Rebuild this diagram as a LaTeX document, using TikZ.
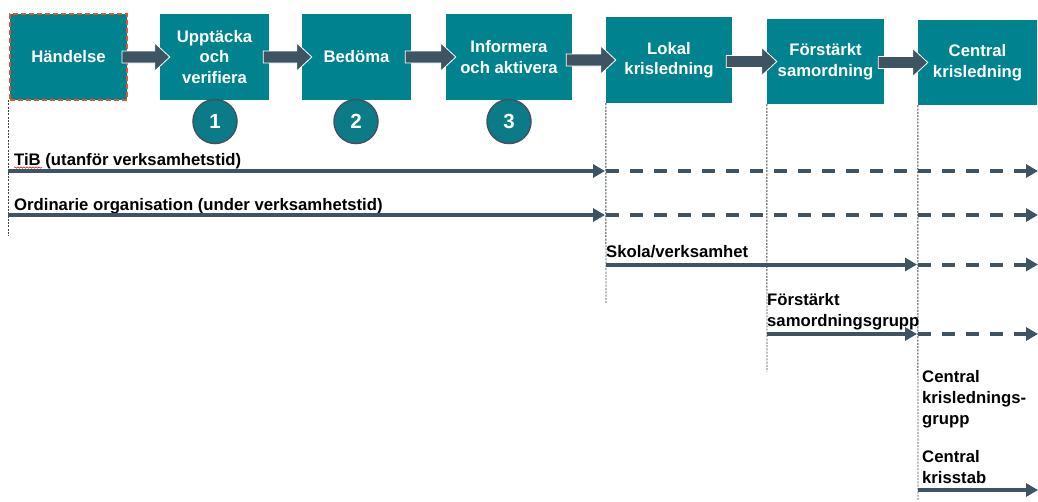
\documentclass[tikz,border=0pt]{standalone}
\usepackage{fontspec}
\setmainfont{Liberation Sans}
\usetikzlibrary{calc,arrows.meta,decorations.pathmorphing}
\definecolor{teal1}{HTML}{00838F}
\definecolor{slate}{HTML}{3E5462}
\definecolor{circ}{HTML}{0B7C87}
\definecolor{orng}{HTML}{E0552D}
\definecolor{dotc}{HTML}{3A4852}
\newcommand\barrow[2]{%
  \filldraw[barrow] ($(#1.east|-#2.west)+(-6,-6)$) -- ($(#2.west)+(-5,-6)$) -- ($(#2.west)+(-5,-14)$)
    -- ($(#2.west)+(10,0)$) -- ($(#2.west)+(-5,14)$) -- ($(#2.west)+(-5,6)$)
    -- ($(#1.east|-#2.west)+(-6,6)$) -- cycle;}
\begin{document}
\begin{tikzpicture}[x=1pt,y=-1pt,
  stage/.style={rectangle, fill=teal1, text=white, font=\bfseries\fontsize{16.7}{20.5}\selectfont, align=center, inner sep=0pt},
  numc/.style={circle, fill=circ, draw=slate, line width=1.5pt, minimum size=44pt, inner sep=0pt, text=white, font=\bfseries\fontsize{20.5}{24}\selectfont},
  barrow/.style={fill=slate, draw=white, line width=0.8pt},
  guide/.style={draw=dotc, line width=0.9pt, dash pattern=on 2pt off 1.3pt},
  flow/.style={draw=slate, line width=4pt, -{Triangle[length=12pt,width=13pt]}},
  flowd/.style={flow, dash pattern=on 13pt off 11pt},
  lbl/.style={anchor=north west, inner sep=0pt, font=\bfseries\fontsize{16.7}{21}\selectfont, align=left}
]
\useasboundingbox[fill=white] (0,0) rectangle (1038,501);

% stage boxes
\node[stage, minimum width=117pt, minimum height=86pt, draw=orng, line width=2pt, dash pattern=on 5pt off 3pt] (hand) at (68.5,57) {Händelse};
\node[stage, minimum width=109pt, minimum height=86pt] (upp) at (214.5,57) {Upptäcka\\och\\verifiera};
\node[stage, minimum width=109pt, minimum height=86pt] (bed) at (356.5,57) {Bedöma};
\node[stage, minimum width=126pt, minimum height=86pt] (inf) at (509,57) {Informera\\och aktivera};
\node[stage, minimum width=126pt, minimum height=86pt] (lok) at (669,60) {Lokal\\krisledning};
\node[stage, minimum width=117pt, minimum height=85pt] (fors) at (825.5,61.5) {Förstärkt\\samordning};
\node[stage, minimum width=119pt, minimum height=85pt] (cent) at (977.5,62.5) {Central\\krisledning};

% block arrows
\barrow{hand}{upp}
\barrow{upp}{bed}
\barrow{bed}{inf}
\barrow{inf}{lok}
\barrow{lok}{fors}
\barrow{fors}{cent}

% numbered circles
\node[numc] (c1) at (215,121.5) {1};
\node[numc] (c2) at (356,121.5) {2};
\node[numc] (c3) at (509,121.5) {3};

% guide lines
\coordinate (g0t) at (8,100);
\coordinate (g0b) at (8,236);
\coordinate (g1b) at (606,303);
\coordinate (g2b) at (767,372);
\coordinate (g3b) at (918,501);
\draw[guide] (g0t) -- (g0b);
\draw[guide] (lok.south west) -- (g1b);
\draw[guide] (fors.south west) -- (g2b);
\draw[guide] (cent.south west) -- (g3b);

% labels
\node[lbl] (tib) at (14,153) {TiB (utanför verksamhetstid)};
\node[lbl] (ord) at (14,198) {Ordinarie organisation (under verksamhetstid)};
\node[lbl] (sko) at (606,245) {Skola/verksamhet};
\node[lbl] (fsg) at (767,293) {Förstärkt\\samordningsgrupp};
\node[lbl] (ckg) at (922,370.5) {Central\\krislednings-\\grupp};
\node[lbl] (cks) at (922,450) {Central\\krisstab};

% spell-check squiggle under TiB
\draw[red!80!black, line width=0.5pt, decorate, decoration={snake, amplitude=0.7pt, segment length=3pt}] (14,167.5) -- (42,167.5);

% flow arrows
\coordinate (tibS) at (8,171);
\coordinate (tibM) at (606,171);
\coordinate (tibE) at (1038,171);
\draw[flow] (tibS) -- ($(tibM)+(-1,0)$);
\draw[flowd] (tibM) -- (tibE);

\coordinate (ordS) at (8,215);
\coordinate (ordM) at (606,215);
\coordinate (ordE) at (1038,215);
\draw[flow] (ordS) -- ($(ordM)+(-1,0)$);
\draw[flowd] (ordM) -- (ordE);

\coordinate (skoS) at (606,264.5);
\coordinate (skoM) at (918,264.5);
\coordinate (skoE) at (1038,264.5);
\draw[flow] (skoS) -- ($(skoM)+(-1,0)$);
\draw[flowd] (skoM) -- (skoE);

\coordinate (fsgS) at (767,334);
\coordinate (fsgM) at (918,334);
\coordinate (fsgE) at (1038,334);
\draw[flow] (fsgS) -- ($(fsgM)+(-1,0)$);
\draw[flowd] (fsgM) -- (fsgE);

\coordinate (cksS) at (918,490);
\coordinate (cksE) at (1038,490);
\draw[flow] (cksS) -- (cksE);
\end{tikzpicture}
\end{document}
